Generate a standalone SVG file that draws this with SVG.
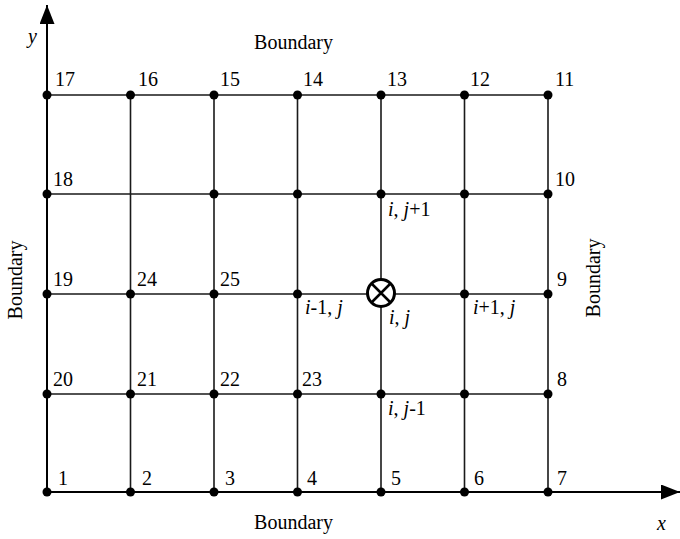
<svg xmlns="http://www.w3.org/2000/svg" width="680" height="539" viewBox="0 0 680 539">
<defs>
<style>
.g{stroke:#1a1a1a;stroke-width:1.6;fill:none}
.ax{stroke:#000;stroke-width:2;fill:none}
.d{fill:#000}
.t{font-family:'Liberation Serif','Times New Roman',Times,serif;font-size:20px;fill:#000}
.i{font-style:italic}
</style>
<marker id="ah" viewBox="0 0 19 15" refX="19" refY="7.5" markerWidth="19" markerHeight="15" markerUnits="userSpaceOnUse" orient="auto"><path d="M0,0 L19,7.5 L0,15 Z" fill="#000"/></marker>
</defs>
<rect width="680" height="539" fill="#fff"/>
<g id="connectors">
<path class="g" d="M47,95H548M47,194H548M47,294H548M47,394H548"/>
<path class="g" d="M130.5,95V492M214,95V492M297.5,95V492M381,95V492M464.5,95V492M548,95V492"/>
<line class="ax" x1="47" y1="492" x2="47" y2="5" marker-end="url(#ah)"/>
<line class="ax" x1="47" y1="492" x2="680" y2="492" marker-end="url(#ah)"/>
</g>
<g id="n1"><circle class="d" cx="47" cy="492" r="4.5"/><text class="t" x="58" y="485">1</text></g>
<g id="n2"><circle class="d" cx="130.5" cy="492" r="4.5"/><text class="t" x="142" y="485">2</text></g>
<g id="n3"><circle class="d" cx="214" cy="492" r="4.5"/><text class="t" x="225" y="485">3</text></g>
<g id="n4"><circle class="d" cx="297.5" cy="492" r="4.5"/><text class="t" x="307" y="485">4</text></g>
<g id="n5"><circle class="d" cx="381" cy="492" r="4.5"/><text class="t" x="391" y="485">5</text></g>
<g id="n6"><circle class="d" cx="464.5" cy="492" r="4.5"/><text class="t" x="474" y="485">6</text></g>
<g id="n7"><circle class="d" cx="548" cy="492" r="4.5"/><text class="t" x="557" y="485">7</text></g>
<g id="n8"><circle class="d" cx="548" cy="394" r="4.5"/><text class="t" x="557" y="386">8</text></g>
<g id="n9"><circle class="d" cx="548" cy="294" r="4.5"/><text class="t" x="557" y="286">9</text></g>
<g id="n10"><circle class="d" cx="548" cy="194" r="4.5"/><text class="t" x="555" y="186">10</text></g>
<g id="n11"><circle class="d" cx="548" cy="95" r="4.5"/><text class="t" x="555" y="86">11</text></g>
<g id="n12"><circle class="d" cx="464.5" cy="95" r="4.5"/><text class="t" x="470" y="86">12</text></g>
<g id="n13"><circle class="d" cx="381" cy="95" r="4.5"/><text class="t" x="387" y="86">13</text></g>
<g id="n14"><circle class="d" cx="297.5" cy="95" r="4.5"/><text class="t" x="303" y="86">14</text></g>
<g id="n15"><circle class="d" cx="214" cy="95" r="4.5"/><text class="t" x="220" y="86">15</text></g>
<g id="n16"><circle class="d" cx="130.5" cy="95" r="4.5"/><text class="t" x="138" y="86">16</text></g>
<g id="n17"><circle class="d" cx="47" cy="95" r="4.5"/><text class="t" x="55" y="86">17</text></g>
<g id="n18"><circle class="d" cx="47" cy="194" r="4.5"/><text class="t" x="53" y="186">18</text></g>
<g id="n19"><circle class="d" cx="47" cy="294" r="4.5"/><text class="t" x="53" y="286">19</text></g>
<g id="n20"><circle class="d" cx="47" cy="394" r="4.5"/><text class="t" x="53" y="386">20</text></g>
<g id="n21"><circle class="d" cx="130.5" cy="394" r="4.5"/><text class="t" x="137" y="386">21</text></g>
<g id="n22"><circle class="d" cx="214" cy="394" r="4.5"/><text class="t" x="220" y="386">22</text></g>
<g id="n23"><circle class="d" cx="297.5" cy="394" r="4.5"/><text class="t" x="302" y="386">23</text></g>
<g id="n24"><circle class="d" cx="130.5" cy="294" r="4.5"/><text class="t" x="137" y="286">24</text></g>
<g id="n25"><circle class="d" cx="214" cy="294" r="4.5"/><text class="t" x="220" y="286">25</text></g>
<g id="n-b1"><circle class="d" cx="214" cy="194" r="4.5"/></g>
<g id="n-b2"><circle class="d" cx="297.5" cy="194" r="4.5"/></g>
<g id="n-ij1"><circle class="d" cx="381" cy="194" r="4.5"/><text class="t" x="388" y="216"><tspan class="i">i</tspan>, <tspan class="i">j</tspan>+1</text></g>
<g id="n-b3"><circle class="d" cx="464.5" cy="194" r="4.5"/></g>
<g id="n-im1"><circle class="d" cx="297.5" cy="294" r="4.5"/><text class="t" x="305" y="314"><tspan class="i">i</tspan>-1, <tspan class="i">j</tspan></text></g>
<g id="n-ij"><circle cx="381" cy="293" r="13.5" fill="#fff" stroke="#000" stroke-width="3"/><path d="M371.5,283.5L390.5,302.5M390.5,283.5L371.5,302.5" stroke="#000" stroke-width="2.5"/><text class="t" x="389" y="324"><tspan class="i">i</tspan>, <tspan class="i">j</tspan></text></g>
<g id="n-ip1"><circle class="d" cx="464.5" cy="294" r="4.5"/><text class="t" x="473" y="314"><tspan class="i">i</tspan>+1, <tspan class="i">j</tspan></text></g>
<g id="n-ijm1"><circle class="d" cx="381" cy="394" r="4.5"/><text class="t" x="388" y="415"><tspan class="i">i</tspan>, <tspan class="i">j</tspan>-1</text></g>
<g id="n-b4"><circle class="d" cx="464.5" cy="394" r="4.5"/></g>
<g id="labels">
<text class="t" x="293.5" y="49" text-anchor="middle">Boundary</text>
<text class="t" x="293.5" y="529" text-anchor="middle">Boundary</text>
<text class="t" transform="translate(22,280) rotate(-90)" text-anchor="middle">Boundary</text>
<text class="t" transform="translate(600,278) rotate(-90)" text-anchor="middle">Boundary</text>
<text class="t i" x="28" y="43">y</text>
<text class="t i" x="657" y="530">x</text>
</g>
</svg>
